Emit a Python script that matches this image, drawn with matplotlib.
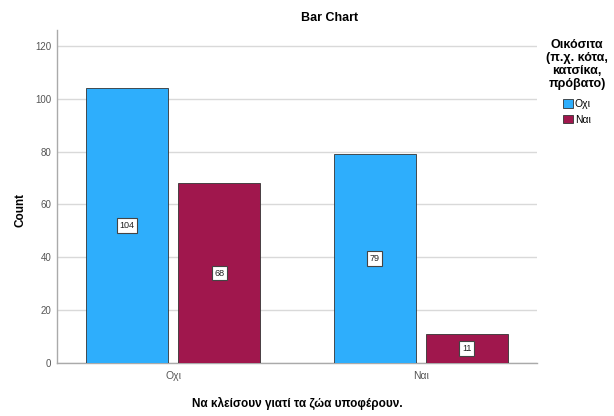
import matplotlib
matplotlib.use("Agg")
import matplotlib.pyplot as plt
import numpy as np

plt.rcParams['font.family'] = ['Liberation Sans', 'DejaVu Sans']

categories = ["Οχι", "Ναι"]
series_names = ["Οχι", "Ναι"]
values_oxi = [104, 79]
values_nai = [68, 11]
yticks = [0, 20, 40, 60, 80, 100, 120]
colors = ["#2eaefc", "#a0174d"]

fig = plt.figure(figsize=(6.14, 4.16), dpi=100)
ax = fig.add_axes([0.0928, 0.1274, 0.7818, 0.8005])

x = np.arange(len(categories))
w = 0.332
gap = 0.04
off = (w + gap) / 2
for vals, c, sgn, name in [(values_oxi, colors[0], -1, series_names[0]), (values_nai, colors[1], 1, series_names[1])]:
    bars = ax.bar(x + sgn * off, vals, width=w, color=c, edgecolor="#333333", linewidth=0.6, label=name, zorder=3)
    for b, v in zip(bars, vals):
        ax.text(b.get_x() + b.get_width() / 2, v / 2, str(v), ha="center", va="center", fontsize=6.5,
                color="#222222",
                bbox=dict(boxstyle="square,pad=0.3", fc="white", ec="#444444", lw=0.8), zorder=4)

ax.set_xlim(-0.47, 1.47)
ax.set_ylim(0, 126)
ax.set_yticks(yticks)
ax.set_xticks(x)
ax.set_xticklabels(categories)
ax.tick_params(axis="y", labelsize=7, length=0, colors="#555555", pad=4)
ax.tick_params(axis="x", labelsize=7.5, length=0, colors="#555555", pad=6)
ax.yaxis.grid(True, color="#d9d9d9", linewidth=1, zorder=0)
ax.set_axisbelow(True)
for s in ["top", "right"]:
    ax.spines[s].set_visible(False)
for s in ["left", "bottom"]:
    ax.spines[s].set_color("#aaaaaa")
    ax.spines[s].set_linewidth(1)

ax.set_ylabel("Count", fontsize=8.5, fontweight="bold")
ax.yaxis.set_label_coords(-0.063, 0.46)
ax.set_xlabel("Να κλείσουν γιατί τα ζώα υποφέρουν.", fontsize=8.5, fontweight="bold", labelpad=11)
fig.text(330 / 614, 1 - 18 / 416, "Bar Chart", ha="center", va="center", fontsize=9, fontweight="bold")

leg = fig.legend(loc="upper center", bbox_to_anchor=(577 / 614, 1 - 34 / 416),
                 title="Οικόσιτα\n(π.χ. κότα,\nκατσίκα,\nπρόβατο)",
                 frameon=False, fontsize=7.5, title_fontproperties={"weight": "bold", "size": 9},
                 handlelength=0.9, handleheight=0.9, handletextpad=0.2, labelspacing=0.55,
                 borderpad=0, alignment="center")
leg.get_title().set_multialignment("center")
leg.get_title().set_linespacing(1.12)
leg._legend_box.sep = 6

fig.savefig("out.png", dpi=100)
